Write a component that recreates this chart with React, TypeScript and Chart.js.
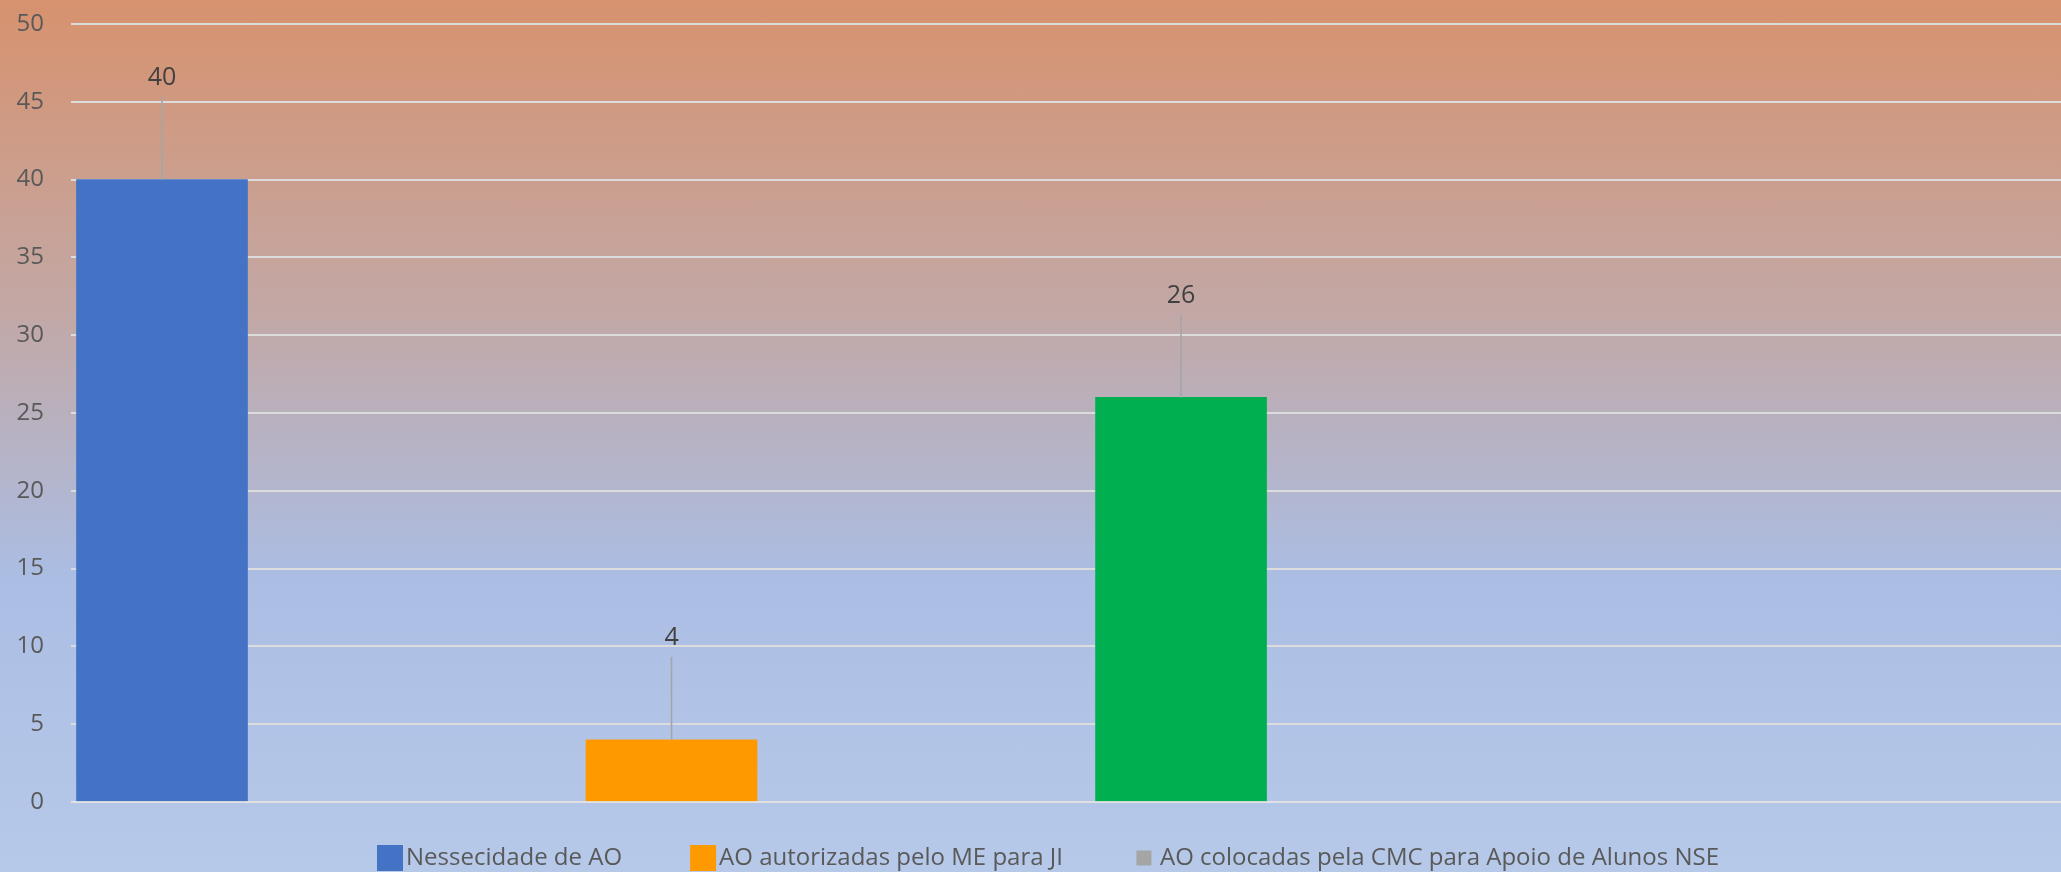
import { useEffect, useRef } from 'react';
import { Chart, registerables } from 'chart.js';

Chart.register(...registerables);

// Series shown as separate columns, one per position on the value axis
const seriesNames = [
  'Nessecidade de AO',
  'AO autorizadas pelo ME para JI',
  'AO colocadas pela CMC para Apoio de Alunos NSE',
];
const seriesValues = [40, 4, 26];
const seriesSlots = [0, 1, 2];
const barColors = ['#4472C4', '#FF9900', '#00B050'];
const legendColors = ['#4472C4', '#FF9900', '#A5A5A5'];
const yTickValues = [0, 5, 10, 15, 20, 25, 30, 35, 40, 45, 50];

const FONT = "'Open Sans', 'Noto Sans', sans-serif";

// Value labels with a thin leader line down to the top of each column
const valueLabels = {
  id: 'valueLabels',
  afterDatasetsDraw(chart: any, _args: any, opts: any) {
    const { ctx } = chart;
    ctx.save();
    chart.data.datasets.forEach((ds: any, i: number) => {
      const meta = chart.getDatasetMeta(i);
      meta.data.forEach((bar: any, j: number) => {
        const { x, y } = bar.getProps(['x', 'y'], true);
        ctx.strokeStyle = opts.lineColor;
        ctx.lineWidth = opts.lineWidth;
        ctx.beginPath();
        ctx.moveTo(x, y - opts.lineLength);
        ctx.lineTo(x, y);
        ctx.stroke();
        ctx.fillStyle = opts.color;
        ctx.font = `${opts.fontSize}px ${FONT}`;
        ctx.textAlign = 'center';
        ctx.textBaseline = 'middle';
        ctx.fillText(String(ds.data[j].y), x, y - opts.offset);
      });
    });
    // faint base line drawn over the foot of the columns
    const yScale = chart.scales.y;
    const y0 = yScale.getPixelForValue(0);
    ctx.strokeStyle = opts.baseColor;
    ctx.lineWidth = 2;
    ctx.beginPath();
    ctx.moveTo(chart.chartArea.left, y0);
    ctx.lineTo(chart.chartArea.right, y0);
    ctx.stroke();
    ctx.restore();
  },
};

// Single-row legend under the plot area
const seriesLegend = {
  id: 'seriesLegend',
  afterDraw(chart: any, _args: any, opts: any) {
    const { ctx, chartArea } = chart;
    ctx.save();
    ctx.font = `${opts.fontSize}px ${FONT}`;
    const items = chart.data.datasets.map((ds: any, i: number) => ({
      text: ds.label as string,
      color: legendColors[i],
      size: opts.markerSizes[i],
      w: ctx.measureText(ds.label).width,
    }));
    const total =
      items.reduce((s: number, it: any) => s + opts.slot + opts.textGap + it.w, 0) +
      opts.itemGap * (items.length - 1);
    let x = (chartArea.left + chartArea.right) / 2 - opts.shift - total / 2;
    const cy = chartArea.bottom + opts.offsetY;
    ctx.textAlign = 'left';
    ctx.textBaseline = 'middle';
    items.forEach((it: any) => {
      ctx.fillStyle = it.color;
      ctx.fillRect(x + (opts.slot - it.size) / 2, cy - it.size / 2, it.size, it.size);
      ctx.fillStyle = opts.color;
      ctx.fillText(it.text, x + opts.slot + opts.textGap, cy);
      x += opts.slot + opts.textGap + it.w + opts.itemGap;
    });
    ctx.restore();
  },
};

export default function App() {
  const canvasRef = useRef<HTMLCanvasElement | null>(null);

  useEffect(() => {
    if (!canvasRef.current) return;
    const chart = new Chart(canvasRef.current, {
      type: 'bar',
      data: {
        datasets: seriesNames.map((name, i) => ({
          label: name,
          data: [{ x: seriesSlots[i], y: seriesValues[i] }],
          backgroundColor: barColors[i],
          borderWidth: 0,
          grouped: false,
          barThickness: 171,
          categoryPercentage: 1,
          barPercentage: 1,
        })),
      },
      options: {
        animation: false,
        responsive: true,
        maintainAspectRatio: false,
        layout: { padding: { top: 24, bottom: 70, left: 0, right: 0 } },
        scales: {
          x: {
            type: 'linear',
            offset: false,
            min: -0.1786,
            max: 3.727,
            display: false,
          },
          y: {
            min: yTickValues[0],
            max: yTickValues[yTickValues.length - 1],
            afterBuildTicks: (s: any) => {
              s.ticks = yTickValues.map((value) => ({ value }));
            },
            afterFit: (s: any) => {
              s.width = 71;
            },
            border: { display: false },
            grid: {
              color: '#DCDCDC',
              lineWidth: 2,
              drawTicks: true,
              tickLength: 27,
              tickColor: 'rgba(0,0,0,0)',
            },
            ticks: {
              color: '#595959',
              font: { family: FONT, size: 24 },
              padding: 0,
            },
          },
        },
        plugins: {
          legend: { display: false },
          tooltip: { enabled: false },
          valueLabels: {
            color: '#404040',
            fontSize: 25,
            offset: 102,
            lineLength: 83,
            lineColor: '#A6A6A6',
            lineWidth: 1.6,
            baseColor: 'rgba(230,230,230,0.55)',
          },
          seriesLegend: {
            color: '#595959',
            fontSize: 24,
            markerSizes: [26, 26, 15],
            slot: 26,
            textGap: 3,
            itemGap: 68,
            shift: 18,
            offsetY: 56,
          },
        } as any,
      },
      plugins: [valueLabels, seriesLegend],
    } as any);
    return () => chart.destroy();
  }, []);

  return (
    <div
      style={{
        position: 'fixed',
        left: 0,
        top: 0,
        width: 2061,
        height: 872,
        background:
          'linear-gradient(to bottom, rgb(215,146,110) 0%, rgb(194,168,166) 36%, rgb(171,189,227) 66%, rgb(183,201,233) 100%)',
      }}
    >
      <canvas ref={canvasRef} style={{ display: 'block' }} />
    </div>
  );
}
